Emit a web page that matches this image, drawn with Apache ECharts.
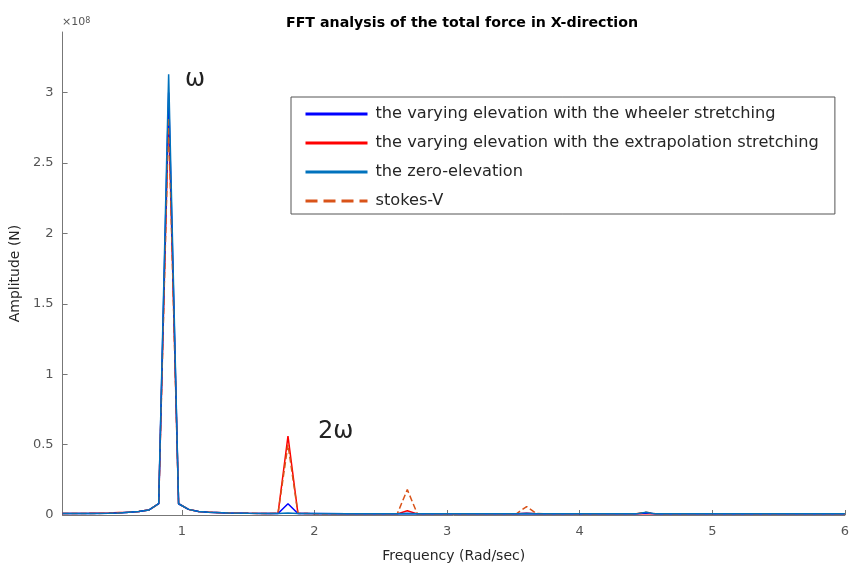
<!DOCTYPE html>
<html>
<head>
<meta charset="utf-8">
<script src="https://cdn.jsdelivr.net/npm/echarts@6/dist/echarts.min.js"></script>
<style>html,body{margin:0;padding:0;background:#fff}#c{width:852px;height:571px}</style>
</head>
<body>
<div id="c"></div>
<script>
// Frequency (Rad/sec)
const freq = [0.1, 0.3, 0.45, 0.525, 0.6, 0.675, 0.75, 0.825, 0.9, 0.975, 1.05, 1.125, 1.2, 1.35, 1.5, 1.65, 1.725, 1.8, 1.875, 1.95, 2.25, 2.55, 2.625, 2.7, 2.775, 2.85, 3.15, 3.45, 3.525, 3.6, 3.675, 3.75, 4.05, 4.35, 4.425, 4.5, 4.575, 4.65, 5.0, 5.5, 6.0];
// Amplitudes in units of 1e8 N
const wheeler = [0.01, 0.01, 0.012, 0.015, 0.02, 0.025, 0.035, 0.08, 3.0, 0.08, 0.04, 0.025, 0.02, 0.015, 0.012, 0.01, 0.01, 0.08, 0.01, 0.01, 0.008, 0.008, 0.008, 0.01, 0.008, 0.008, 0.008, 0.008, 0.008, 0.01, 0.008, 0.008, 0.008, 0.008, 0.008, 0.015, 0.008, 0.008, 0.008, 0.008, 0.008];
const extrapolation = [0.01, 0.012, 0.015, 0.018, 0.02, 0.025, 0.035, 0.08, 2.87, 0.08, 0.04, 0.025, 0.02, 0.015, 0.012, 0.01, 0.012, 0.56, 0.012, 0.01, 0.008, 0.008, 0.008, 0.03, 0.008, 0.008, 0.008, 0.008, 0.008, 0.012, 0.008, 0.008, 0.008, 0.008, 0.008, 0.01, 0.008, 0.008, 0.008, 0.008, 0.008];
const zeroElevation = [0.01, 0.01, 0.012, 0.015, 0.02, 0.025, 0.035, 0.08, 3.13, 0.08, 0.04, 0.025, 0.02, 0.015, 0.012, 0.01, 0.01, 0.015, 0.01, 0.01, 0.008, 0.008, 0.008, 0.01, 0.008, 0.008, 0.008, 0.008, 0.008, 0.01, 0.008, 0.008, 0.008, 0.008, 0.008, 0.02, 0.008, 0.008, 0.008, 0.008, 0.008];
const stokesV = [0.01, 0.01, 0.012, 0.015, 0.02, 0.025, 0.035, 0.08, 2.82, 0.08, 0.04, 0.025, 0.02, 0.015, 0.012, 0.01, 0.012, 0.5, 0.012, 0.01, 0.008, 0.008, 0.01, 0.18, 0.01, 0.008, 0.008, 0.008, 0.01, 0.06, 0.01, 0.008, 0.008, 0.008, 0.008, 0.02, 0.008, 0.008, 0.008, 0.008, 0.008];
const seriesNames = ['the varying elevation with the wheeler stretching', 'the varying elevation with the extrapolation stretching', 'the zero-elevation', 'stokes-V'];
const xTicks = [1, 2, 3, 4, 5, 6];
const yTicks = [0, 0.5, 1, 1.5, 2, 2.5, 3];

const pair = arr => freq.map((f, i) => [f, arr[i]]);
const FONT = 'DejaVu Sans';
const chart = echarts.init(document.getElementById('c'));
const colors = ['#0000FF', '#FF0000', '#0072BD', '#D95319'];
const zs = [3, 2, 5, 4];
const dataSets = [wheeler, extrapolation, zeroElevation, stokesV];
chart.setOption({
  animation: false,
  textStyle: { fontFamily: FONT },
  title: {
    text: 'FFT analysis of the total force in X-direction',
    left: 457, top: 11, textAlign: 'center',
    textStyle: { fontSize: 14.2, fontWeight: 'bold', color: '#000', fontFamily: FONT }
  },
  grid: { left: 61, right: 2, top: 32, bottom: 56 },
  legend: {
    orient: 'vertical', left: 291, top: 97,
    backgroundColor: '#fff', borderColor: '#555', borderWidth: 1,
    padding: [9, 16, 5, 13],
    itemWidth: 62, itemHeight: 14, itemGap: 13,
    itemStyle: { opacity: 0 },
    lineStyle: { width: 3 },
    textStyle: { fontSize: 16.2, color: '#262626', fontFamily: FONT, padding: [0, 0, 0, 3] },
    data: seriesNames
  },
  xAxis: {
    type: 'value', min: 0.1, max: 6,
    name: 'Frequency (Rad/sec)', nameLocation: 'middle', nameGap: 34,
    nameTextStyle: { fontSize: 14, color: '#262626', fontFamily: FONT },
    axisLine: { lineStyle: { color: '#777' } },
    axisTick: { inside: true, length: 5, customValues: xTicks, lineStyle: { color: '#777' } },
    axisLabel: { customValues: xTicks, fontSize: 13, color: '#555', margin: 10, fontFamily: FONT },
    splitLine: { show: false }
  },
  yAxis: {
    type: 'value', min: 0, max: 3.43,
    name: 'Amplitude (N)', nameLocation: 'middle', nameGap: 35,
    nameTextStyle: { fontSize: 14, color: '#262626', fontFamily: FONT },
    axisLine: { show: true, lineStyle: { color: '#777' } },
    axisTick: { show: true, inside: true, length: 5, customValues: yTicks, lineStyle: { color: '#777' } },
    axisLabel: { customValues: yTicks, fontSize: 13, color: '#555', margin: 9, fontFamily: FONT },
    splitLine: { show: false }
  },
  graphic: [
    { type: 'text', left: 62, top: 17, style: { text: '×10{s|8}', rich: { s: { fontSize: 8, verticalAlign: 'top', fill: '#555', fontFamily: FONT } }, fontSize: 11, fill: '#555', fontFamily: FONT } },
    { type: 'text', left: 185, top: 68, style: { text: 'ω', fontSize: 24, fill: '#222', fontFamily: FONT } },
    { type: 'text', left: 318, top: 420, style: { text: '2ω', fontSize: 24, fill: '#222', fontFamily: FONT } }
  ],
  series: seriesNames.map((n, i) => ({
    name: n, type: 'line', data: pair(dataSets[i]), symbol: 'none', z: zs[i],
    lineStyle: { color: colors[i], width: 1.5, type: i === 3 ? 'dashed' : 'solid' },
    itemStyle: { color: colors[i] },
    clip: true
  }))
});
</script>
</body>
</html>
